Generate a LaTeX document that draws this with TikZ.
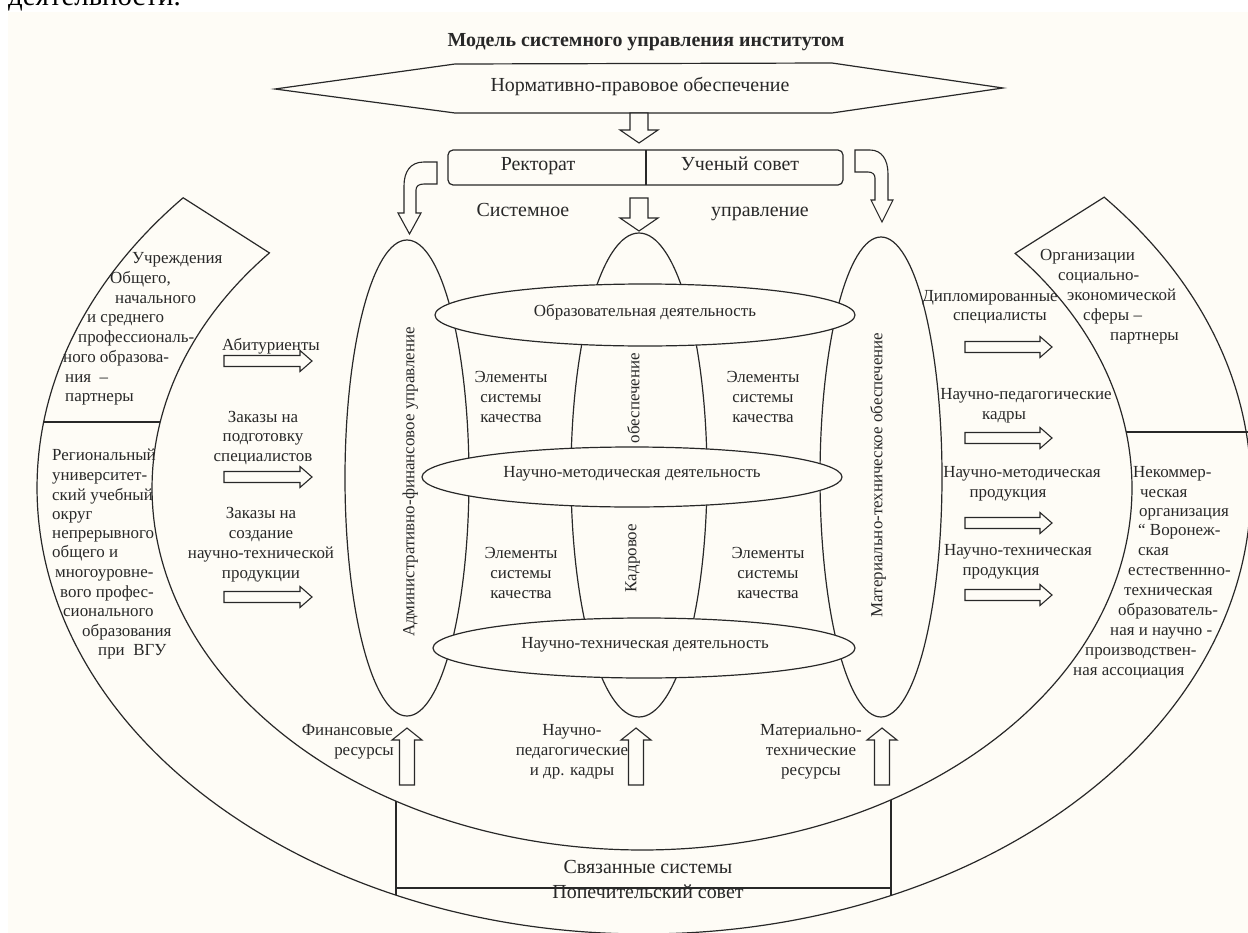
\documentclass[tikz,border=0pt]{standalone}
\usepackage{fontspec}
\setmainfont{Liberation Serif}
\usetikzlibrary{calc}
\definecolor{paper}{RGB}{254,252,246}
\definecolor{ink}{RGB}{40,40,40}
\newcommand\fsm{\fontsize{17}{20}\selectfont}
\newcommand\fsl{\fontsize{20}{23}\selectfont}
\newcommand\rarrow[3]{%
  \draw[hollow] (#1,-#3+5.5) -- (#2-12,-#3+5.5) -- (#2-12,-#3+10.5) -- (#2,-#3)
    -- (#2-12,-#3-10.5) -- (#2-12,-#3-5.5) -- (#1,-#3-5.5) -- cycle;}
\newcommand\uparr[3]{%
  \draw[hollow] (#1-7.5,-#3) -- (#1-7.5,-#2-12) -- (#1-15,-#2-12) -- (#1,-#2)
    -- (#1+15,-#2-12) -- (#1+7.5,-#2-12) -- (#1+7.5,-#3) -- cycle;}
\newcommand\dnarr[3]{%
  \draw[hollow] (#1-9,-#2) -- (#1-9,-#3+13) -- (#1-19,-#3+13) -- (#1,-#3)
    -- (#1+19,-#3+13) -- (#1+9,-#3+13) -- (#1+9,-#2) -- cycle;}
\tikzset{
  ln/.style={draw=ink, line width=1.2bp},
  hollow/.style={draw=ink, fill=paper, line width=1.1bp, line join=miter},
  txt/.style={text=ink, font=\fsm, inner sep=0pt},
  txtl/.style={text=ink, font=\fsl, inner sep=0pt},
  lw/.style={txt, anchor=mid west},
  blk/.style={txt, align=center},
}
\begin{document}
\begin{tikzpicture}[x=1bp,y=1bp]
\useasboundingbox (0,0) rectangle (1248,-933);
\fill[white] (0,0) rectangle (1248,-933);
\fill[paper] (8,-12) rectangle (1248,-933);
\node[anchor=base west, inner sep=0pt, font=\fontsize{29}{32}\selectfont, text=black] (frag) at (8,-5) {деятельности.};

% title
\node[txtl, font=\bfseries\fsl] (title) at (646,-42) {Модель системного управления институтом};

% hexagon
\draw[ln, fill=paper] (275,-89) -- (455,-64) -- (832,-63) -- (1003,-88) -- (832,-113) -- (455,-113) -- cycle;
\node[txtl, anchor=mid] (norm) at (640,-89) {Нормативно-правовое обеспечение};

% rectorate box
\draw[ln, rounded corners=5bp] (448,-150) rectangle (843,-185);
\draw[ln] (646,-150) -- (646,-185);
\node[txtl, anchor=mid] (rect) at (538,-168) {Ректорат};
\node[txtl, anchor=mid] (sov) at (740,-168) {Ученый совет};

\dnarr{639}{113}{143}
\dnarr{639}{198}{231}
\node[txtl, anchor=mid] (sys) at (523,-214) {Системное};
\node[txtl, anchor=mid] (upr) at (760,-214) {управление};

% curved arrows
\draw[hollow] (437,-162) -- (424,-162) .. controls (410,-162) and (404,-172) .. (404,-186)
  -- (404,-213) -- (398,-213) -- (409.5,-234) -- (421,-213) -- (416,-213) -- (416,-190)
  .. controls (416,-186) and (419,-184) .. (424,-184) -- (437,-184) -- cycle;
\draw[hollow] (855,-150) -- (870,-150) .. controls (882,-150) and (888,-160) .. (888,-174)
  -- (888,-200) -- (893,-200) -- (882,-222) -- (871,-200) -- (875,-200) -- (875,-178)
  .. controls (875,-174) and (872,-172) .. (868,-172) -- (855,-172) -- cycle;

% big horseshoe band
\coordinate (co) at (644,-488);
\coordinate (ci) at (642,-488);
\draw[ln] ($(co)+(139.4:607 and 446)$) arc[start angle=139.4, end angle=400.7, x radius=607, y radius=446]
  -- ($(ci)+(40.4:490 and 362)$) arc[start angle=40.4, end angle=-220.5, x radius=490, y radius=362] -- cycle;
\draw[ln] (43.7,-422) -- (160.2,-422);
\draw[ln] (1126.1,-432) -- (1248,-432);
\draw[ln] (396,-801.1) -- (396,-895.1);
\draw[ln] (891,-799.8) -- (891,-895.4);
\draw[ln] (396,-888) -- (891,-888);
\node[txtl, anchor=mid] (svs) at (648,-871) {Связанные системы};
\node[txtl, anchor=mid] (pop) at (648,-896) {Попечительский совет};

% tall ovals
\draw[ln] (407,-478) ellipse[x radius=62, y radius=238];
\draw[ln] (639,-475) ellipse[x radius=68, y radius=242];
\draw[ln] (881,-477) ellipse[x radius=61, y radius=240];
\node[txt, rotate=90, anchor=mid] (adm) at (412,-482) {Административно-финансовое управление};
\node[txt, rotate=90, anchor=mid] (mat) at (880,-475) {Материально-техническое обеспечение};
\node[txt, rotate=90, anchor=mid] (obe) at (637,-398) {обеспечение};
\node[txt, rotate=90, anchor=mid] (kad) at (634,-558) {Кадровое};

% horizontal ellipses
\draw[ln, fill=paper] (645,-315) ellipse[x radius=210, y radius=31];
\draw[ln, fill=paper] (632,-477) ellipse[x radius=210, y radius=30];
\draw[ln, fill=paper] (644,-648) ellipse[x radius=211, y radius=30];
\node[txt, anchor=mid] (od) at (645,-314) {Образовательная деятельность};
\node[txt, anchor=mid] (nmd) at (632,-475) {Научно-методическая деятельность};
\node[txt, anchor=mid] (ntd) at (645,-646) {Научно-техническая деятельность};

\node[blk] (e1) at (511,-397) {Элементы\\системы\\качества};
\node[blk] (e2) at (763,-397) {Элементы\\системы\\качества};
\node[blk] (e3) at (521,-573) {Элементы\\системы\\качества};
\node[blk] (e4) at (768,-573) {Элементы\\системы\\качества};

% left arrows
\node[txt, anchor=mid] (abi) at (271,-348) {Абитуриенты};
\rarrow{224}{312}{361}
\node[blk] (zak1) at (263,-438) {Заказы на\\подготовку\\специалистов};
\rarrow{224}{312}{477}
\node[blk] (zak2) at (261,-545) {Заказы на\\создание\\научно-технической\\продукции};
\rarrow{224}{312}{597}

% right arrows
\node[txt, anchor=mid] (dip1) at (990,-299) {Дипломированные};
\node[txt, anchor=mid] (dip2) at (1000,-318) {специалисты};
\rarrow{965}{1052}{347}
\node[txt, anchor=mid] (npk1) at (1026,-397) {Научно-педагогические};
\node[txt, anchor=mid] (npk2) at (1004,-417) {кадры};
\rarrow{965}{1052}{438}
\node[txt, anchor=mid] (nmp1) at (1022,-475) {Научно-методическая};
\node[txt, anchor=mid] (nmp2) at (1008,-495) {продукция};
\rarrow{965}{1052}{523}
\node[txt, anchor=mid] (ntp1) at (1018,-553) {Научно-техническая};
\node[txt, anchor=mid] (ntp2) at (1001,-573) {продукция};
\rarrow{965}{1052}{595}

% bottom up arrows
\uparr{407}{728}{785}
\uparr{636}{728}{785}
\uparr{882}{728}{785}
\node[txt, anchor=mid east] (fin1) at (393,-733) {Финансовые};
\node[txt, anchor=mid east] (fin2) at (394,-753) {ресурсы};
\node[blk] (npd) at (572,-752) {Научно-\\педагогические\\и др. кадры};
\node[blk] (mtr) at (811,-752) {Материально-\\технические\\ресурсы};

% left band texts
\node[lw] (u1) at (132,-261) {Учреждения};
\node[lw] (u2) at (110,-281) {Общего,};
\node[lw] (u3) at (115,-301) {начального};
\node[lw] (u4) at (87,-320) {и среднего};
\node[lw] (u5) at (78,-340) {профессиональ-};
\node[lw] (u6) at (63,-360) {ного образова-};
\node[lw] (u7) at (65,-380) {ния\ \ –};
\node[lw] (u8) at (65,-399) {партнеры};

\node[lw] (r1) at (52,-458) {Региональный};
\node[lw] (r2) at (52,-478) {университет-};
\node[lw] (r3) at (52,-498) {ский учебный};
\node[lw] (r4) at (52,-517) {округ};
\node[lw] (r5) at (52,-536) {непрерывного};
\node[lw] (r6) at (52,-555) {общего и};
\node[lw] (r7) at (55,-575) {многоуровне-};
\node[lw] (r8) at (60,-595) {вого профес-};
\node[lw] (r9) at (63,-614) {сионального};
\node[lw] (r10) at (82,-634) {образования};
\node[lw] (r11) at (98,-653) {при\ \ ВГУ};

% right band texts
\node[lw] (o1) at (1040,-258) {Организации};
\node[lw] (o2) at (1058,-278) {социально-};
\node[lw] (o3) at (1067,-298) {экономической};
\node[lw] (o4) at (1083,-318) {сферы –};
\node[lw] (o5) at (1110,-338) {партнеры};

\node[lw] (n1) at (1133,-475) {Некоммер-};
\node[lw] (n2) at (1140,-495) {ческая};
\node[lw] (n3) at (1139,-514) {организация};
\node[lw] (n4) at (1138,-533) {“ Воронеж-};
\node[lw] (n5) at (1138,-553) {ская};
\node[lw] (n6) at (1128,-573) {естественнно-};
\node[lw] (n7) at (1124,-593) {техническая};
\node[lw] (n8) at (1118,-613) {образователь-};
\node[lw] (n9) at (1110,-633) {ная и научно -};
\node[lw] (n10) at (1085,-653) {производствен-};
\node[lw] (n11) at (1073,-673) {ная ассоциация};
\end{tikzpicture}
\end{document}
